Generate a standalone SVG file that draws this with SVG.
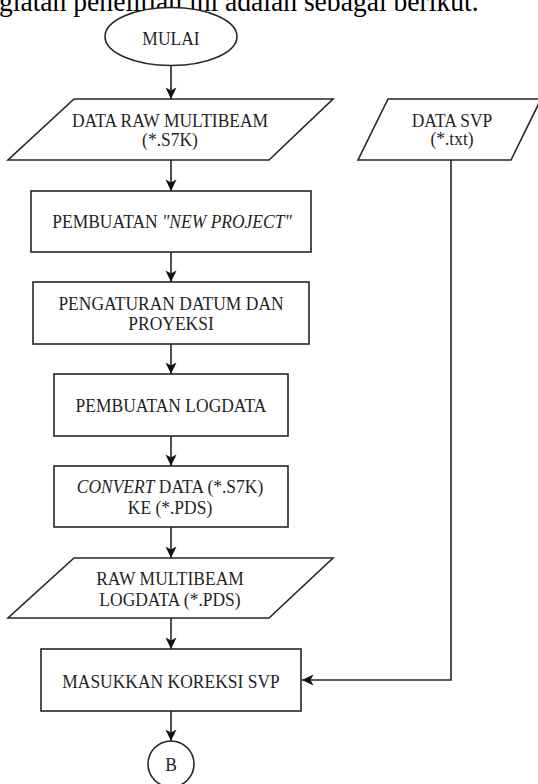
<svg xmlns="http://www.w3.org/2000/svg" width="538" height="784" viewBox="0 0 538 784">
  <style>
    .shape { fill: #ffffff; stroke: #262626; stroke-width: 1.6; }
    .link { fill: none; stroke: #262626; stroke-width: 1.6; }
    .lbl { font-family: "Liberation Serif", "Times New Roman", serif; font-size: 19px; fill: #1f1f1f; text-anchor: middle; }
    .it { font-style: italic; }
    .body { font-family: "Liberation Serif", "Times New Roman", serif; font-size: 30px; fill: #000000; }
  </style>
  <defs>
    <marker id="arrow" markerUnits="userSpaceOnUse" markerWidth="12" markerHeight="12" viewBox="-12 -6 12 12" refX="0" refY="0" orient="auto">
      <path d="M0,0 L-11.5,-5.5 L-8.5,0 L-11.5,5.5 Z" fill="#111111"/>
    </marker>
  </defs>

  <rect width="538" height="784" fill="#ffffff"/>

  <!-- running paragraph text above the chart -->
  <text class="body" transform="translate(-1,11) scale(0.92,1)">giatan penelitian ini adalah sebagai berikut.</text>

  <!-- connectors -->
  <g id="connectors">
    <line class="link" x1="171" y1="65" x2="171" y2="99" marker-end="url(#arrow)"/>
    <line class="link" x1="171" y1="160" x2="171" y2="191" marker-end="url(#arrow)"/>
    <line class="link" x1="171" y1="252" x2="171" y2="282" marker-end="url(#arrow)"/>
    <line class="link" x1="171" y1="344" x2="171" y2="374" marker-end="url(#arrow)"/>
    <line class="link" x1="171" y1="436" x2="171" y2="466" marker-end="url(#arrow)"/>
    <line class="link" x1="171" y1="527" x2="171" y2="558" marker-end="url(#arrow)"/>
    <line class="link" x1="171" y1="618" x2="171" y2="649" marker-end="url(#arrow)"/>
    <line class="link" x1="171" y1="711" x2="171" y2="741" marker-end="url(#arrow)"/>
    <polyline class="link" points="451,160 451,680 302,680" marker-end="url(#arrow)"/>
  </g>

  <!-- start terminator -->
  <g id="mulai">
    <ellipse class="shape" cx="171" cy="36.5" rx="66" ry="29"/>
    <text class="lbl" transform="translate(171,44.5) scale(0.92,1)">MULAI</text>
  </g>

  <!-- raw multibeam input -->
  <g id="data-raw">
    <polygon class="shape" points="74,99 333,99 269,160 8,160"/>
    <text class="lbl" transform="translate(170,126.5) scale(0.92,1)">DATA RAW MULTIBEAM</text>
    <text class="lbl" transform="translate(170,145.5) scale(0.92,1)">(*.S7K)</text>
  </g>

  <!-- sound velocity profile input -->
  <g id="data-svp">
    <polygon class="shape" points="388,99 541,99 511,160 358,160"/>
    <text class="lbl" transform="translate(452,126.5) scale(0.92,1)">DATA SVP</text>
    <text class="lbl" transform="translate(452,145) scale(0.92,1)">(*.txt)</text>
  </g>

  <g id="new-project">
    <rect class="shape" x="31" y="191" width="280" height="61"/>
    <text class="lbl" transform="translate(172,228.3) scale(0.92,1)">PEMBUATAN <tspan class="it">"NEW PROJECT"</tspan></text>
  </g>

  <g id="datum">
    <rect class="shape" x="33" y="282" width="276" height="62"/>
    <text class="lbl" transform="translate(171,309.5) scale(0.92,1)">PENGATURAN DATUM DAN</text>
    <text class="lbl" transform="translate(171,329.5) scale(0.92,1)">PROYEKSI</text>
  </g>

  <g id="logdata">
    <rect class="shape" x="54" y="374" width="234" height="62"/>
    <text class="lbl" transform="translate(171,411.5) scale(0.92,1)">PEMBUATAN LOGDATA</text>
  </g>

  <g id="convert">
    <rect class="shape" x="54" y="466" width="234" height="61"/>
    <text class="lbl" transform="translate(170,493) scale(0.92,1)"><tspan class="it">CONVERT</tspan> DATA (*.S7K)</text>
    <text class="lbl" transform="translate(170,513.5) scale(0.92,1)">KE (*.PDS)</text>
  </g>

  <g id="raw-logdata">
    <polygon class="shape" points="74,558 333,558 269,618 8,618"/>
    <text class="lbl" transform="translate(170,585) scale(0.92,1)">RAW MULTIBEAM</text>
    <text class="lbl" transform="translate(170,605.5) scale(0.92,1)">LOGDATA (*.PDS)</text>
  </g>

  <g id="koreksi-svp">
    <rect class="shape" x="41" y="649" width="260" height="62"/>
    <text class="lbl" transform="translate(171,687.5) scale(0.92,1)">MASUKKAN KOREKSI SVP</text>
  </g>

  <!-- off-page connector -->
  <g id="connector-b">
    <circle class="shape" cx="171" cy="764" r="23"/>
    <text class="lbl" transform="translate(171,771) scale(0.92,1)">B</text>
  </g>
</svg>
